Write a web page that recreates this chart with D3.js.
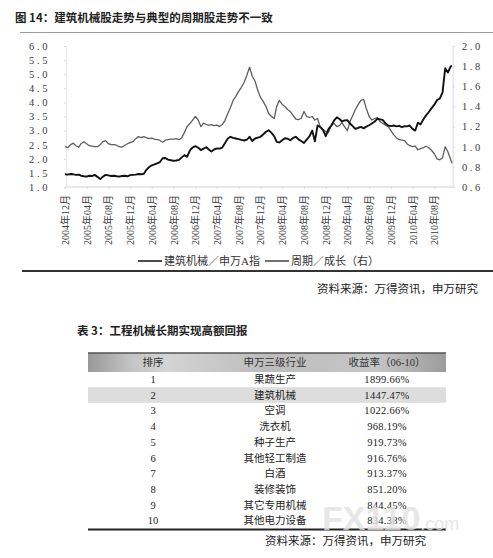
<!DOCTYPE html>
<html>
<head>
<meta charset="utf-8">
<script src="https://cdn.jsdelivr.net/npm/d3@7"></script>
<style>
  body { margin: 0; background: #fff; }
  svg { display: block; }
  .serif { font-family: "Liberation Serif", "Noto Sans CJK SC", serif; }
  .sans { font-family: "Noto Sans CJK SC", sans-serif; }
</style>
</head>
<body>
<svg id="chart" width="493" height="558"></svg>
<script>
// half-month sampling, Dec 2004 .. Nov 2010
const dates = [
  "2004-12-01","2004-12-16",
  "2005-01-01","2005-01-16","2005-02-01","2005-02-16","2005-03-01","2005-03-16","2005-04-01","2005-04-16","2005-05-01","2005-05-16","2005-06-01","2005-06-16",
  "2005-07-01","2005-07-16","2005-08-01","2005-08-16","2005-09-01","2005-09-16","2005-10-01","2005-10-16","2005-11-01","2005-11-16","2005-12-01","2005-12-16",
  "2006-01-01","2006-01-16","2006-02-01","2006-02-16","2006-03-01","2006-03-16","2006-04-01","2006-04-16","2006-05-01","2006-05-16","2006-06-01","2006-06-16",
  "2006-07-01","2006-07-16","2006-08-01","2006-08-16","2006-09-01","2006-09-16","2006-10-01","2006-10-16","2006-11-01","2006-11-16","2006-12-01","2006-12-16",
  "2007-01-01","2007-01-16","2007-02-01","2007-02-16","2007-03-01","2007-03-16","2007-04-01","2007-04-16","2007-05-01","2007-05-16","2007-06-01","2007-06-16",
  "2007-07-01","2007-07-16","2007-08-01","2007-08-16","2007-09-01","2007-09-16","2007-10-01","2007-10-16","2007-11-01","2007-11-16","2007-12-01","2007-12-16",
  "2008-01-01","2008-01-16","2008-02-01","2008-02-16","2008-03-01","2008-03-16","2008-04-01","2008-04-16","2008-05-01","2008-05-16","2008-06-01","2008-06-16",
  "2008-07-01","2008-07-16","2008-08-01","2008-08-16","2008-09-01","2008-09-16","2008-10-01","2008-10-16","2008-11-01","2008-11-16","2008-12-01","2008-12-16",
  "2009-01-01","2009-01-16","2009-02-01","2009-02-16","2009-03-01","2009-03-16","2009-04-01","2009-04-16","2009-05-01","2009-05-16","2009-06-01","2009-06-16",
  "2009-07-01","2009-07-16","2009-08-01","2009-08-16","2009-09-01","2009-09-16","2009-10-01","2009-10-16","2009-11-01","2009-11-16","2009-12-01","2009-12-16",
  "2010-01-01","2010-01-16","2010-02-01","2010-02-16","2010-03-01","2010-03-16","2010-04-01","2010-04-16","2010-05-01","2010-05-16","2010-06-01","2010-06-16",
  "2010-07-01","2010-07-16","2010-08-01","2010-08-16","2010-09-01","2010-09-16","2010-10-01","2010-10-16","2010-11-01","2010-11-08"
];

// 建筑机械/申万A指 (left axis)
const machinery = [
  1.45, 1.44,
  1.46, 1.45, 1.43, 1.44, 1.40, 1.38, 1.37, 1.40, 1.39, 1.43, 1.36, 1.28,
  1.36, 1.43, 1.41, 1.39, 1.40, 1.38, 1.37, 1.39, 1.40, 1.38, 1.42, 1.43,
  1.44, 1.46, 1.45, 1.47, 1.60, 1.70, 1.77, 1.80, 1.84, 1.88, 2.02, 2.03,
  1.97, 1.95, 1.93, 1.94, 1.96, 2.05, 2.13, 2.07, 2.30, 2.40, 2.45, 2.40,
  2.31, 2.36, 2.41, 2.32, 2.26, 2.33, 2.37, 2.36, 2.40, 2.55, 2.72, 2.78,
  2.74, 2.72, 2.70, 2.67, 2.65, 2.68, 2.78, 2.63, 2.72, 2.75, 2.78, 2.86,
  2.96, 3.01, 2.92, 2.80, 2.60, 2.58, 2.66, 2.73, 2.71, 2.66, 2.74, 2.78,
  2.69, 2.63, 2.56, 2.68, 2.80, 3.00, 2.62, 3.18, 3.12, 3.02, 2.80, 3.05,
  3.18, 3.35, 3.47, 3.41, 3.33, 3.36, 3.37, 3.25, 3.16, 3.06, 3.10, 3.13,
  3.08, 3.14, 3.19, 3.25, 3.32, 3.42, 3.40, 3.38, 3.25, 3.18, 3.16, 3.18,
  3.15, 3.17, 3.12, 3.16, 3.15, 3.18, 3.06, 3.00, 3.28, 3.22, 3.40, 3.54,
  3.66, 3.79, 3.92, 4.08, 4.14, 4.35, 5.21, 5.06, 5.28, 5.29
];

// 周期/成长 (right axis)
const cycleGrowth = [
  1.00, 0.99,
  1.02, 1.035, 1.01, 0.995, 1.03, 1.05, 1.03, 1.01, 1.005, 1.00, 1.00, 1.02,
  1.05, 1.06, 1.03, 1.02, 1.02, 1.015, 1.00, 0.995, 1.015, 1.03, 1.04, 1.05,
  1.08, 1.10, 1.09, 1.10, 1.09, 1.08, 1.085, 1.075, 1.07, 1.065, 1.045, 1.065,
  1.07, 1.075, 1.075, 1.08, 1.07, 1.09, 1.14, 1.20, 1.23, 1.265, 1.30, 1.27,
  1.20, 1.235, 1.22, 1.215, 1.22, 1.21, 1.215, 1.20, 1.22, 1.26, 1.33, 1.39,
  1.46, 1.50, 1.55, 1.59, 1.64, 1.71, 1.79, 1.70, 1.65, 1.56, 1.49, 1.45,
  1.40, 1.33, 1.30, 1.28, 1.40, 1.46, 1.42, 1.40, 1.37, 1.35, 1.31, 1.275,
  1.27, 1.28, 1.35, 1.30, 1.29, 1.30, 1.265, 1.28, 1.19, 1.17, 1.15, 1.14,
  1.21, 1.23, 1.20, 1.21, 1.24, 1.20, 1.16, 1.25, 1.31, 1.37, 1.42, 1.46,
  1.47, 1.38, 1.30, 1.265, 1.28, 1.29, 1.25, 1.23, 1.215, 1.20, 1.16, 1.12,
  1.09, 1.07, 1.065, 1.06, 1.03, 1.01, 1.00, 1.005, 0.97, 0.98, 0.99, 1.005,
  0.99, 0.965, 0.93, 0.88, 0.87, 0.89, 1.00, 0.95, 0.87, 0.835
];

const xTicks = ["2004-12","2005-04","2005-08","2005-12","2006-04","2006-08","2006-12","2007-04","2007-08",
  "2007-12","2008-04","2008-08","2008-12","2009-04","2009-08","2009-12","2010-04","2010-08"];
const leftTicks = [1.0, 1.5, 2.0, 2.5, 3.0, 3.5, 4.0, 4.5, 5.0, 5.5, 6.0];
const rightTicks = [0.6, 0.8, 1.0, 1.2, 1.4, 1.6, 1.8, 2.0];
const legendNames = ["建筑机械／申万A指", "周期／成长（右）"];

const tableHeader = ["排序", "申万三级行业", "收益率（06-10）"];
const ranks = [1, 2, 3, 4, 5, 6, 7, 8, 9, 10];
const industries = ["果蔬生产", "建筑机械", "空调", "洗衣机", "种子生产", "其他轻工制造", "白酒", "装修装饰", "其它专用机械", "其他电力设备"];
const returns = ["1899.66%", "1447.47%", "1022.66%", "968.19%", "919.73%", "916.76%", "913.37%", "851.20%", "844.45%", "834.38%"];

const svg = d3.select("#chart");
const parse = d3.timeParse("%Y-%m-%d");
const parseM = d3.timeParse("%Y-%m");

// ---- titles
svg.append("text").attr("class", "sans")
  .attr("x", 15).attr("y", 22)
  .style("font-size", "11.5px").style("font-weight", "bold").style("fill", "#222")
  .text("图 14：建筑机械股走势与典型的周期股走势不一致");
svg.append("line").attr("x1", 20).attr("x2", 493).attr("y1", 32.5).attr("y2", 32.5)
  .attr("stroke", "#9a9a9a").attr("stroke-width", 1);

// ---- scales
const x = d3.scaleTime()
  .domain([parseM("2004-12"), parseM("2010-08")])
  .range([65, 434.3]);
const yL = d3.scaleLinear().domain([1, 6]).range([187, 46]);
const yR = d3.scaleLinear().domain([0.6, 2.0]).range([187, 46]);

// frame lines (faint)
svg.append("line").attr("x1", 66).attr("x2", 453).attr("y1", 187).attr("y2", 187)
  .attr("stroke", "#cfcfcf");
svg.append("line").attr("x1", 453).attr("x2", 453).attr("y1", 46).attr("y2", 187)
  .attr("stroke", "#e4e4e4");

const leftAxis = svg.append("g").attr("transform", "translate(66,0)")
  .call(d3.axisLeft(yL).tickValues(leftTicks).tickFormat(d3.format(".1f"))
    .tickSizeInner(2).tickSizeOuter(0).tickPadding(14));
const rightAxis = svg.append("g").attr("transform", "translate(453,0)")
  .call(d3.axisRight(yR).tickValues(rightTicks).tickFormat(d3.format(".1f"))
    .tickSizeInner(2).tickSizeOuter(0).tickPadding(7));
const bottomAxis = svg.append("g").attr("transform", "translate(0,187)")
  .call(d3.axisBottom(x).tickValues(xTicks.map(parseM))
    .tickFormat(d3.timeFormat("%Y年%m月")).tickSize(2));

[leftAxis, rightAxis, bottomAxis].forEach(g => {
  g.select(".domain").attr("stroke", "#e6e6e6");
  g.selectAll(".tick line").attr("stroke", "#dcdcdc");
  g.selectAll("text").attr("class", "serif").attr("font-family", null)
    .style("font-size", "10.5px").style("fill", "#3a3a3a").style("letter-spacing", "2.6px");
});
bottomAxis.select(".domain").remove();
bottomAxis.selectAll("text")
  .style("letter-spacing", "0px").style("font-size", "10px")
  .attr("transform", "rotate(-90)")
  .attr("text-anchor", "end")
  .attr("x", -8).attr("y", 0).attr("dy", "0.35em");

// ---- lines
const pts = dates.map(parse);
const lineL = d3.line().x((d, i) => x(pts[i])).y(d => yL(d));
const lineR = d3.line().x((d, i) => x(pts[i])).y(d => yR(d));

svg.append("path").datum(cycleGrowth).attr("d", lineR)
  .attr("fill", "none").attr("stroke", "#5e5e5e").attr("stroke-width", 1.3)
  .attr("stroke-linejoin", "round");
svg.append("path").datum(machinery).attr("d", lineL)
  .attr("fill", "none").attr("stroke", "#111").attr("stroke-width", 1.9)
  .attr("stroke-linejoin", "round");

// ---- legend
const legend = svg.append("g").attr("class", "serif")
  .selectAll("g").data(legendNames).enter().append("g")
  .attr("transform", (d, i) => `translate(${i === 0 ? 138 : 265},261)`);
legend.append("line").attr("x1", 0).attr("x2", 24).attr("y1", 0).attr("y2", 0)
  .attr("stroke", (d, i) => i === 0 ? "#111" : "#444").attr("stroke-width", 1.5);
legend.append("text").attr("x", 26).attr("dy", "0.35em")
  .style("font-size", "11px").style("fill", "#333").text(d => d);

svg.append("line").attr("x1", 22).attr("x2", 493).attr("y1", 271).attr("y2", 271)
  .attr("stroke", "#333").attr("stroke-width", 2);

svg.append("text").attr("class", "sans")
  .attr("x", 478).attr("y", 289).attr("dy", "0.35em").attr("text-anchor", "end")
  .style("font-size", "11.5px").style("fill", "#222")
  .text("资料来源：万得资讯，申万研究");

// ---- table
svg.append("text").attr("class", "sans")
  .attr("x", 77).attr("y", 331).attr("dy", "0.35em")
  .style("font-size", "11.5px").style("font-weight", "bold").style("fill", "#222")
  .text("表 3：工程机械长期实现高额回报");

const defs = svg.append("defs");
const grad = defs.append("linearGradient").attr("id", "hdr");
[["0%", "#999"], ["12%", "#c4c4c4"], ["22%", "#d4d4d4"], ["50%", "#bcbcbc"], ["80%", "#c6c6c6"], ["100%", "#9c9c9c"]]
  .forEach(s => grad.append("stop").attr("offset", s[0]).attr("stop-color", s[1]));

const tLeft = 88, tRight = 446;
const colX = [153, 275, 387];
const rowY = d3.scaleLinear().domain([0, 9]).range([379.3, 520.7]);

svg.append("rect").attr("x", tLeft).attr("y", 353).attr("width", tRight - tLeft).attr("height", 19)
  .attr("fill", "url(#hdr)");
svg.append("line").attr("x1", tLeft).attr("x2", tRight).attr("y1", 353).attr("y2", 353)
  .attr("stroke", "#555").attr("stroke-width", 1.5);
svg.append("rect").attr("x", tLeft).attr("y", rowY(1) - 7.8).attr("width", tRight - tLeft).attr("height", 15.6)
  .attr("fill", "#dddddd");

svg.append("g").selectAll("text").data(tableHeader).enter().append("text")
  .attr("class", "serif").attr("x", (d, i) => colX[i]).attr("y", 362.5).attr("dy", "0.35em")
  .attr("text-anchor", "middle").style("font-size", "10.5px").style("fill", "#333")
  .text(d => d);

const rows = svg.append("g").attr("class", "serif")
  .selectAll("g").data(ranks).enter().append("g")
  .attr("transform", (d, i) => `translate(0,${rowY(i)})`)
  .style("font-size", "10.5px").style("fill", "#222");
rows.append("text").attr("x", colX[0]).attr("dy", "0.35em").attr("text-anchor", "middle").text(d => d);
rows.append("text").attr("x", colX[1]).attr("dy", "0.35em").attr("text-anchor", "middle").text((d, i) => industries[i]);
rows.append("text").attr("x", colX[2]).attr("dy", "0.35em").attr("text-anchor", "middle")
  .style("letter-spacing", "0.3px").text((d, i) => returns[i]);

svg.append("line").attr("x1", tLeft).attr("x2", tRight).attr("y1", 529.5).attr("y2", 529.5)
  .attr("stroke", "#222").attr("stroke-width", 1.8);

svg.append("text").attr("class", "sans")
  .attr("x", 426).attr("y", 541).attr("dy", "0.35em").attr("text-anchor", "end")
  .style("font-size", "11.5px").style("fill", "#222")
  .text("资料来源：万得资讯，申万研究");

// watermark of the scanned source
const wm = svg.append("text").attr("x", 322).attr("y", 530)
  .style("font-family", "'Liberation Sans', sans-serif").style("font-weight", "bold")
  .style("fill", "#e2e2e2").style("opacity", 0.8);
wm.append("tspan").style("font-size", "34px").text("FX110");
wm.append("tspan").style("font-size", "18px").style("font-weight", "normal").text(".com");
</script>
</body>
</html>
